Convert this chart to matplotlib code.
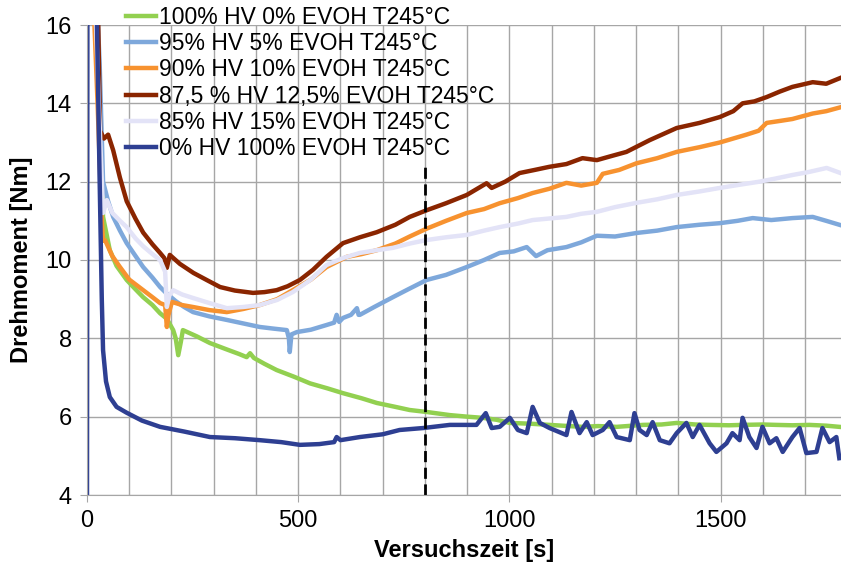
import numpy as np
import matplotlib
matplotlib.use('Agg')
import matplotlib.pyplot as plt
from matplotlib.ticker import MultipleLocator

plt.rcParams['font.family'] = ['Liberation Sans', 'DejaVu Sans']

# time [s], torque [Nm]
t_green = [20, 32, 38, 54, 70, 94, 115, 133, 155, 173, 189, 204, 210, 216, 222, 227, 260, 291, 330, 360, 378, 386,
           395, 420, 449, 490, 528, 570, 606, 650, 686, 730, 764, 804, 859, 900, 937, 970, 1001, 1050, 1095, 1140,
           1173, 1210, 1254, 1316, 1360, 1396, 1440, 1474, 1520, 1552, 1600, 1632, 1670, 1710, 1750, 1781]
v_green = [17, 13, 11.1, 10.25, 9.85, 9.49, 9.25, 9.05, 8.85, 8.64, 8.5, 8.21, 8.0, 7.57, 7.9, 8.21, 8.05, 7.88, 7.72,
           7.6, 7.52, 7.62, 7.5, 7.35, 7.19, 7.02, 6.85, 6.72, 6.6, 6.47, 6.35, 6.25, 6.17, 6.12, 6.04, 6.0, 5.97,
           5.92, 5.84, 5.82, 5.79, 5.76, 5.74, 5.76, 5.74, 5.79, 5.8, 5.84, 5.8, 5.79, 5.78, 5.79, 5.8, 5.79, 5.78,
           5.79, 5.77, 5.74]

t_lblue = [22, 30, 38, 50, 62, 78, 94, 115, 133, 155, 173, 189, 210, 230, 251, 290, 331, 370, 409, 440, 473, 478, 480,
           484, 497, 530, 567, 585, 591, 597, 606, 625, 639, 643, 646, 680, 724, 760, 804, 850, 899, 940, 977, 1010,
           1041, 1063, 1090, 1135, 1170, 1207, 1250, 1301, 1350, 1396, 1450, 1498, 1540, 1576, 1620, 1670, 1718,
           1750, 1784]
v_lblue = [17, 15, 12.0, 11.5, 11.1, 10.75, 10.43, 10.1, 9.82, 9.55, 9.31, 9.14, 8.95, 8.8, 8.67, 8.56, 8.47, 8.38,
           8.29, 8.25, 8.21, 8.0, 7.65, 8.1, 8.16, 8.22, 8.34, 8.4, 8.6, 8.42, 8.52, 8.6, 8.77, 8.6, 8.6, 8.8, 9.05,
           9.25, 9.49, 9.62, 9.82, 10.0, 10.18, 10.22, 10.33, 10.1, 10.25, 10.33, 10.45, 10.62, 10.6, 10.69, 10.75,
           10.84, 10.9, 10.94, 11.0, 11.07, 11.02, 11.07, 11.1, 11.0, 10.89]

t_orange = [14, 25, 35, 38, 43, 60, 78, 100, 133, 155, 173, 185, 189, 193, 201, 225, 251, 290, 331, 370, 409, 450,
            487, 530, 567, 615, 650, 686, 730, 764, 804, 850, 899, 940, 977, 1020, 1055, 1095, 1135, 1170, 1207,
            1221, 1260, 1301, 1350, 1396, 1450, 1498, 1561, 1590, 1609, 1640, 1670, 1718, 1750, 1784]
v_orange = [17, 14, 11.0, 10.5, 10.5, 10.1, 9.82, 9.5, 9.23, 9.05, 8.9, 8.85, 8.29, 8.6, 8.93, 8.85, 8.8, 8.72,
            8.67, 8.75, 8.85, 9.0, 9.23, 9.5, 9.82, 10.08, 10.15, 10.25, 10.42, 10.6, 10.8, 11.0, 11.2, 11.3, 11.45,
            11.58, 11.71, 11.82, 11.97, 11.9, 11.97, 12.2, 12.3, 12.47, 12.6, 12.76, 12.88, 13.0, 13.2, 13.3, 13.5,
            13.55, 13.6, 13.74, 13.8, 13.9]

t_dred = [25, 31, 40, 50, 62, 78, 94, 115, 133, 155, 173, 183, 189, 196, 220, 252, 285, 315, 350, 393, 420, 449, 475,
          504, 535, 567, 606, 646, 686, 730, 764, 804, 850, 899, 946, 958, 990, 1024, 1060, 1095, 1135, 1173, 1207,
          1240, 1277, 1332, 1396, 1450, 1498, 1530, 1552, 1580, 1609, 1640, 1670, 1718, 1750, 1784]
v_dred = [17, 13.3, 13.1, 13.2, 12.8, 12.1, 11.5, 11.05, 10.7, 10.4, 10.18, 10.05, 9.8, 10.13, 9.9, 9.67, 9.48,
          9.31, 9.22, 9.16, 9.18, 9.23, 9.33, 9.49, 9.75, 10.08, 10.43, 10.58, 10.71, 10.9, 11.1, 11.27, 11.45,
          11.66, 11.96, 11.84, 12.0, 12.22, 12.3, 12.38, 12.45, 12.6, 12.55, 12.65, 12.76, 13.06, 13.37, 13.5,
          13.65, 13.8, 14.0, 14.05, 14.16, 14.3, 14.42, 14.54, 14.5, 14.65]

t_lav = [18, 28, 38, 47, 60, 78, 94, 115, 133, 155, 173, 185, 189, 195, 204, 225, 251, 290, 331, 370, 409, 450, 487,
         530, 567, 606, 646, 686, 724, 764, 804, 850, 899, 940, 977, 1020, 1055, 1095, 1135, 1170, 1207, 1250, 1301,
         1350, 1396, 1450, 1498, 1550, 1592, 1630, 1670, 1710, 1751, 1784]
v_lav = [17, 14, 11.2, 11.53, 11.2, 11.0, 10.84, 10.55, 10.35, 10.15, 10.0, 9.7, 8.8, 9.1, 9.23, 9.12, 9.03, 8.9,
         8.77, 8.8, 8.85, 8.98, 9.18, 9.5, 9.87, 10.05, 10.18, 10.25, 10.31, 10.42, 10.51, 10.58, 10.64, 10.75,
         10.84, 10.93, 11.02, 11.06, 11.1, 11.18, 11.23, 11.35, 11.46, 11.55, 11.66, 11.75, 11.84, 11.93, 12.0,
         12.08, 12.17, 12.25, 12.35, 12.22]

t_dblue = [0, 1, 22, 30, 35, 38, 45, 54, 70, 94, 130, 173, 230, 291, 350, 409, 460, 504, 550, 585, 591, 600, 646, 700,
           740, 796, 859, 922, 944, 958, 977, 1001, 1020, 1041, 1055, 1072, 1095, 1135, 1147, 1166, 1183, 1197,
           1221, 1237, 1254, 1285, 1296, 1308, 1325, 1339, 1356, 1379, 1396, 1419, 1434, 1450, 1474, 1490, 1514,
           1528, 1545, 1552, 1568, 1585, 1599, 1616, 1632, 1647, 1670, 1687, 1703, 1727, 1741, 1758, 1774, 1781]
v_dblue = [4.0, 17, 17, 12, 9, 7.7, 6.9, 6.5, 6.25, 6.1, 5.9, 5.74, 5.62, 5.48, 5.45, 5.4, 5.35, 5.28, 5.3, 5.35,
           5.48, 5.4, 5.48, 5.55, 5.66, 5.71, 5.79, 5.79, 6.09, 5.71, 5.74, 5.97, 5.66, 5.58, 6.25, 5.84, 5.71,
           5.53, 6.12, 5.58, 5.86, 5.53, 5.66, 5.86, 5.48, 5.4, 6.09, 5.66, 5.53, 5.86, 5.4, 5.32, 5.58, 5.84,
           5.48, 5.79, 5.32, 5.1, 5.32, 5.58, 5.4, 5.97, 5.48, 5.2, 5.74, 5.32, 5.45, 5.1, 5.48, 5.71, 5.07, 5.1,
           5.71, 5.35, 5.48, 4.94]

series = [
    (t_green, v_green, '100% HV 0% EVOH T245°C', '#92D050'),
    (t_lblue, v_lblue, '95% HV 5% EVOH T245°C', '#7EA8DB'),
    (t_orange, v_orange, '90% HV 10% EVOH T245°C', '#F7922F'),
    (t_dred, v_dred, '87,5 % HV 12,5% EVOH T245°C', '#8A2500'),
    (t_lav, v_lav, '85% HV 15% EVOH T245°C', '#E3E3F7'),
    (t_dblue, v_dblue, '0% HV 100% EVOH T245°C', '#2E3F92'),
]
marker_time = 800

fig = plt.figure(figsize=(8.41, 5.67), dpi=100)
ax = fig.add_axes([87/841, 72/567, 754/841, 470/567])

for t, v, lab, col in series:
    ax.plot(t, v, color=col, linewidth=3.2, label=lab, solid_joinstyle='round')

ax.plot([marker_time, marker_time], [4, 12.5], color='black', linewidth=2, linestyle=(0, (4, 2)))

ax.set_xlim(0, 1785)
ax.set_ylim(4, 16)
ax.xaxis.set_major_locator(MultipleLocator(500))
ax.xaxis.set_minor_locator(MultipleLocator(100))
ax.yaxis.set_major_locator(MultipleLocator(2))
ax.grid(which='both', color='#A6A6A6', linewidth=1)
ax.set_axisbelow(True)
for s in ['top', 'right']:
    ax.spines[s].set_visible(False)
for s in ['left', 'bottom']:
    ax.spines[s].set_color('#A6A6A6')
ax.tick_params(which='both', colors='#A6A6A6', labelcolor='black', labelsize=17, length=5, pad=6)
ax.tick_params(which='minor', length=0)

ax.set_xlabel('Versuchszeit [s]', fontsize=17, fontweight='bold', labelpad=5)
ax.set_ylabel('Drehmoment [Nm]', fontsize=17, fontweight='bold', labelpad=9)

fig.legend(loc='upper left', bbox_to_anchor=(126/841, 1 - 6/567), frameon=False, fontsize=16.5,
           handlelength=1.3, handletextpad=0.13, labelspacing=0.14, borderaxespad=0, borderpad=0)

plt.savefig('out.png', dpi=100)
